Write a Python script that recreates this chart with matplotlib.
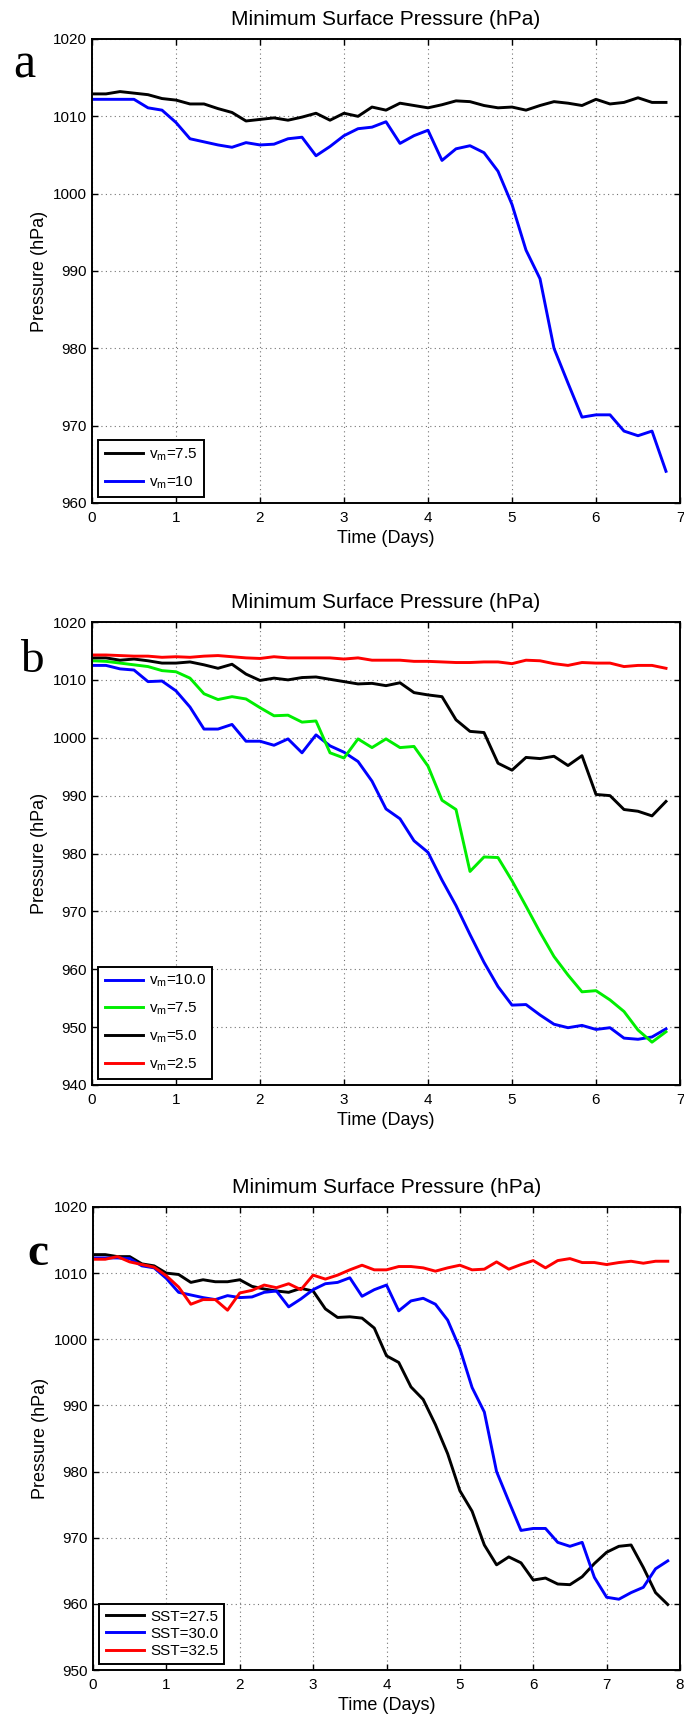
import numpy as np
import matplotlib
matplotlib.use("Agg")
import matplotlib.pyplot as plt

plt.rcParams['font.family'] = ['Liberation Sans', 'DejaVu Sans']
plt.rcParams['mathtext.default'] = 'regular'

# ---------------- data (hPa), output every 4 hours (1/6 day) ----------------
step_days = 1.0 / 6.0

a_vm75 = [1012.9, 1012.9, 1013.2, 1013.0, 1012.8, 1012.3, 1012.1, 1011.6, 1011.6, 1011.0,
          1010.5, 1009.4, 1009.6, 1009.8, 1009.5, 1009.9, 1010.4, 1009.5, 1010.4, 1010.0,
          1011.2, 1010.8, 1011.7, 1011.4, 1011.1, 1011.5, 1012.0, 1011.9, 1011.4, 1011.1,
          1011.2, 1010.8, 1011.4, 1011.9, 1011.7, 1011.4, 1012.2, 1011.6, 1011.8, 1012.4,
          1011.8, 1011.8]
a_vm10 = [1012.2, 1012.2, 1012.2, 1012.2, 1011.1, 1010.8, 1009.2, 1007.1, 1006.7, 1006.3,
          1006.0, 1006.6, 1006.3, 1006.4, 1007.1, 1007.3, 1004.9, 1006.1, 1007.5, 1008.4,
          1008.6, 1009.3, 1006.5, 1007.5, 1008.2, 1004.3, 1005.8, 1006.2, 1005.3, 1002.9,
          998.6, 992.7, 989.0, 980.0, 975.5, 971.1, 971.4, 971.4, 969.3, 968.7,
          969.3, 964.1]

b_vm100 = [1012.5, 1012.5, 1011.9, 1011.7, 1009.7, 1009.8, 1008.1, 1005.3, 1001.5, 1001.5,
           1002.3, 999.4, 999.4, 998.7, 999.8, 997.4, 1000.5, 998.6, 997.5, 995.9,
           992.5, 987.7, 986.0, 982.2, 980.2, 975.4, 971.0, 966.0, 961.2, 957.0,
           953.8, 953.9, 952.1, 950.5, 949.9, 950.3, 949.6, 949.9, 948.1, 947.9,
           948.3, 949.7]
b_vm75 = [1013.3, 1013.2, 1012.9, 1012.6, 1012.3, 1011.6, 1011.4, 1010.3, 1007.6, 1006.6,
          1007.1, 1006.7, 1005.2, 1003.8, 1003.9, 1002.7, 1002.9, 997.4, 996.5, 999.8,
          998.3, 999.8, 998.3, 998.5, 995.1, 989.2, 987.6, 976.9, 979.4, 979.3,
          975.3, 970.9, 966.4, 962.2, 959.0, 956.1, 956.3, 954.7, 952.7, 949.5,
          947.4, 949.2]
b_vm50 = [1013.8, 1013.8, 1013.4, 1013.6, 1013.3, 1012.9, 1012.9, 1013.1, 1012.6, 1012.0,
          1012.7, 1011.0, 1009.9, 1010.3, 1010.0, 1010.4, 1010.5, 1010.1, 1009.7, 1009.3,
          1009.4, 1009.0, 1009.5, 1007.8, 1007.4, 1007.1, 1003.1, 1001.1, 1000.9, 995.6,
          994.4, 996.6, 996.4, 996.8, 995.2, 996.9, 990.2, 990.0, 987.6, 987.3,
          986.5, 989.0]
b_vm25 = [1014.3, 1014.3, 1014.2, 1014.1, 1014.1, 1013.9, 1014.0, 1013.9, 1014.1, 1014.2,
          1014.0, 1013.8, 1013.7, 1014.0, 1013.8, 1013.8, 1013.8, 1013.8, 1013.6, 1013.8,
          1013.4, 1013.4, 1013.4, 1013.2, 1013.2, 1013.1, 1013.0, 1013.0, 1013.1, 1013.1,
          1012.8, 1013.4, 1013.3, 1012.8, 1012.5, 1013.0, 1012.9, 1012.9, 1012.3, 1012.5,
          1012.5, 1012.0]

c_sst275 = [1012.8, 1012.8, 1012.5, 1012.5, 1011.4, 1011.1, 1010.0, 1009.8, 1008.6, 1009.0,
            1008.7, 1008.7, 1009.0, 1008.0, 1007.6, 1007.3, 1007.1, 1007.7, 1007.3, 1004.6,
            1003.3, 1003.4, 1003.2, 1001.7, 997.5, 996.5, 992.8, 990.9, 987.1, 982.7,
            977.1, 974.0, 968.9, 965.9, 967.1, 966.2, 963.6, 963.9, 963.0, 962.9,
            964.1, 966.1, 967.8, 968.7, 968.9, 965.5, 961.7, 959.9]
c_sst300 = [1012.3, 1012.3, 1012.3, 1012.2, 1011.1, 1010.8, 1009.2, 1007.1, 1006.7, 1006.3,
            1006.0, 1006.6, 1006.3, 1006.4, 1007.1, 1007.3, 1004.9, 1006.1, 1007.5, 1008.4,
            1008.6, 1009.3, 1006.5, 1007.5, 1008.2, 1004.3, 1005.8, 1006.2, 1005.3, 1002.9,
            998.6, 992.7, 989.0, 980.0, 975.5, 971.1, 971.4, 971.4, 969.3, 968.7,
            969.3, 964.0, 961.0, 960.7, 961.7, 962.5, 965.3, 966.5]
c_sst325 = [1012.1, 1012.1, 1012.5, 1011.7, 1011.3, 1010.9, 1009.6, 1007.9, 1005.3, 1006.0,
            1006.0, 1004.4, 1007.0, 1007.4, 1008.2, 1007.8, 1008.4, 1007.5, 1009.7, 1009.1,
            1009.7, 1010.5, 1011.2, 1010.5, 1010.5, 1011.0, 1011.0, 1010.8, 1010.3, 1010.8,
            1011.2, 1010.5, 1010.6, 1011.7, 1010.6, 1011.3, 1011.9, 1010.8, 1011.9, 1012.2,
            1011.6, 1011.6, 1011.3, 1011.6, 1011.8, 1011.5, 1011.8, 1011.8]

a_labels = ['v$_{m}$=7.5', 'v$_{m}$=10']
b_labels = ['v$_{m}$=10.0', 'v$_{m}$=7.5', 'v$_{m}$=5.0', 'v$_{m}$=2.5']
c_labels = ['SST=27.5', 'SST=30.0', 'SST=32.5']

a_yticks = [960, 970, 980, 990, 1000, 1010, 1020]
b_yticks = [940, 950, 960, 970, 980, 990, 1000, 1010, 1020]
c_yticks = [950, 960, 970, 980, 990, 1000, 1010, 1020]

title = 'Minimum Surface Pressure (hPa)'
xlab = 'Time (Days)'
ylab = 'Pressure (hPa)'

BLUE, GREEN, RED, BLACK = '#0000ff', '#00ee00', '#ff0000', '#000000'

# ---------------- figure ----------------
W, H = 684, 1716
fig = plt.figure(figsize=(W / 100, H / 100), dpi=100)


def ax_rect(left, top, right, bottom):
    return [left / W, 1 - bottom / H, (right - left) / W, (bottom - top) / H]


def tvec(series):
    return np.arange(len(series)) * step_days


def style(ax, xmax, yticks):
    ax.set_xlim(0, xmax)
    ax.set_ylim(yticks[0], yticks[-1])
    ax.set_xticks(range(0, xmax + 1))
    ax.set_yticks(yticks)
    ax.grid(True, color='0.45', linestyle=(0, (1, 3)), linewidth=0.8)
    ax.tick_params(direction='in', top=True, right=True, length=4, width=1.0,
                   labelsize=11, pad=4, colors='black')
    ax.tick_params(axis='x', pad=5.5)
    for s in ax.spines.values():
        s.set_linewidth(1.4)
    ax.set_title(title, fontsize=15, pad=10)
    ax.set_xlabel(xlab, fontsize=13, labelpad=4)
    ax.set_ylabel(ylab, fontsize=13, labelpad=3)


def legend(ax, spacing):
    leg = ax.legend(loc='lower left', bbox_to_anchor=(0.011, 0.013), borderaxespad=0,
                    fontsize=11, handlelength=2.5, handletextpad=0.4,
                    labelspacing=spacing, borderpad=0.4, fancybox=False,
                    framealpha=1, edgecolor='black')
    leg.get_frame().set_linewidth(1.4)


LW = 2.1

# panel a
ax = fig.add_axes(ax_rect(92, 39, 680, 503))
ax.plot(tvec(a_vm75), a_vm75, color=BLACK, lw=LW, label=a_labels[0])
ax.plot(tvec(a_vm10), a_vm10, color=BLUE, lw=LW, label=a_labels[1])
style(ax, 7, a_yticks)
legend(ax, 0.75)

# panel b
ax = fig.add_axes(ax_rect(92, 622, 680, 1085))
for ys, c, lab in zip([b_vm100, b_vm75, b_vm50, b_vm25], [BLUE, GREEN, BLACK, RED], b_labels):
    ax.plot(tvec(ys), ys, color=c, lw=LW, label=lab)
style(ax, 7, b_yticks)
legend(ax, 0.75)

# panel c
ax = fig.add_axes(ax_rect(93, 1207, 680, 1670))
for ys, c, lab in zip([c_sst275, c_sst300, c_sst325], [BLACK, BLUE, RED], c_labels):
    ax.plot(tvec(ys), ys, color=c, lw=LW, label=lab)
style(ax, 8, c_yticks)
legend(ax, 0.2)

# panel letters
serif = ['Liberation Serif', 'DejaVu Serif']
fig.text(13 / W, 1 - 78 / H, 'a', fontsize=36, family=serif, ha='left', va='baseline')
fig.text(20 / W, 1 - 672 / H, 'b', fontsize=34, family=serif, ha='left', va='baseline')
fig.text(27 / W, 1 - 1265 / H, 'c', fontsize=34, family=serif, fontweight='bold',
         ha='left', va='baseline')

fig.savefig('out.png', dpi=100)
